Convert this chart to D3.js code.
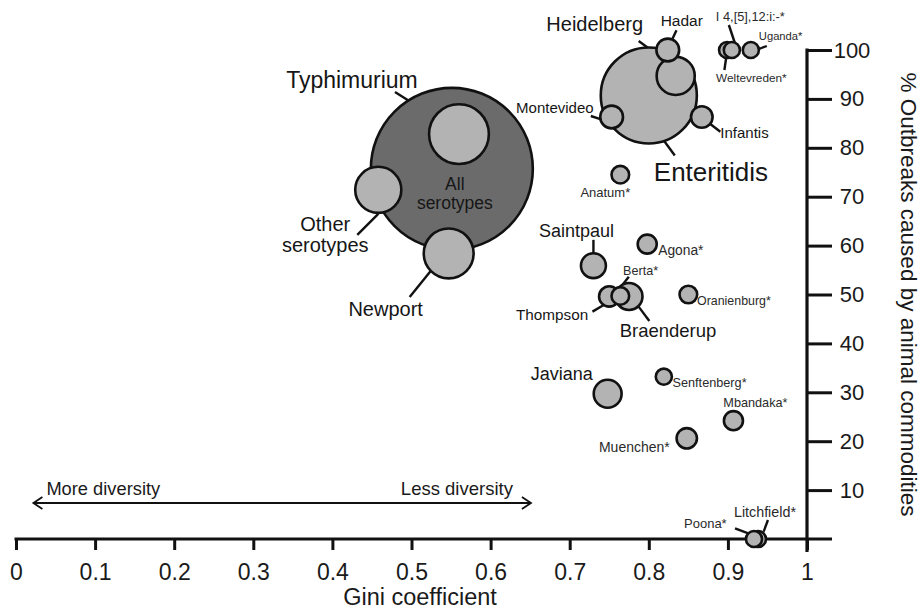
<!DOCTYPE html>
<html>
<head>
<meta charset="utf-8">
<script src="https://cdn.jsdelivr.net/npm/d3@7"></script>
<style>
  body { margin: 0; background: #fff; }
  text { font-family: Arial, "Liberation Sans", sans-serif; }
</style>
</head>
<body>
<div id="chart"></div>
<script>
const width = 920;
const height = 612;

// values
const serotypes = ["All serotypes", "Enteritidis", "Typhimurium", "Newport", "Other serotypes",
    "Heidelberg", "Javiana", "Braenderup", "Saintpaul", "Hadar", "Montevideo", "Infantis",
    "Thompson", "Muenchen*", "Agona*", "Mbandaka*", "Anatum*", "Oranienburg*", "Berta*",
    "Senftenberg*", "Uganda*", "Weltevreden*", "I 4,[5],12:i:-*", "Litchfield*", "Poona*"];
const gini = [0.551, 0.800, 0.560, 0.547, 0.458,
    0.834, 0.748, 0.775, 0.730, 0.824, 0.753, 0.867,
    0.750, 0.848, 0.798, 0.907, 0.764, 0.850, 0.764,
    0.819, 0.929, 0.899, 0.905, 0.938, 0.933];
const pctAnimal = [75.7, 90.7, 82.8, 58.4, 71.4,
    94.7, 29.7, 49.6, 55.9, 100, 86.3, 86.3,
    49.6, 20.6, 60.3, 24.2, 74.5, 50.0, 49.7,
    33.2, 100, 100, 100, 0, 0];
const outbreaks = [506, 178, 69, 48, 41,
    28, 15, 14, 12, 10, 10, 9,
    8, 8, 7, 7, 6, 6, 6,
    5, 5, 5, 5, 5, 5];

const xTicks = [0, 0.1, 0.2, 0.3, 0.4, 0.5, 0.6, 0.7, 0.8, 0.9, 1];
const xTickLabels = ["0", "0.1", "0.2", "0.3", "0.4", "0.5", "0.6", "0.7", "0.8", "0.9", "1"];
const yTicks = [10, 20, 30, 40, 50, 60, 70, 80, 90, 100];

// label placement relative to each bubble (pixels)
const labelLayout = {
    "All serotypes":   { dx: 3, dy: [21, 40], lines: ["All", "serotypes"], anchor: "middle", size: 17.5 },
    "Enteritidis":     { dx: 5, dy: [86], anchor: "start", size: 26, leader: [15, 45, 26, 60] },
    "Typhimurium":     { dx: -107, dy: [-46], anchor: "middle", size: 23, leader: [-64, -42, -26, -18] },
    "Newport":         { dx: -63, dy: [62.5], anchor: "middle", size: 20, leader: [-39, 43.5, -18, 17.5] },
    "Other serotypes": { dx: -53, dy: [41.5, 62.5], lines: ["Other", "serotypes"], anchor: "middle", size: 20, leader: [-21, 45, 0, 24] },
    "Heidelberg":      { dx: -81, dy: [-45], anchor: "middle", size: 20, leader: [-37, -35, -18, -21] },
    "Javiana":         { dx: -46, dy: [-13.5], anchor: "middle", size: 18 },
    "Braenderup":      { dx: 39, dy: [41], anchor: "middle", size: 18.5, leader: [9.6, 10.2, 20.3, 24.5] },
    "Saintpaul":       { dx: -17, dy: [-28.5], anchor: "middle", size: 18, leader: [0, -25.8, 0, -12.5] },
    "Hadar":           { dx: 14, dy: [-24.5], anchor: "middle", size: 15.5, leader: [8.7, -19.8, 4.7, -11.2] },
    "Montevideo":      { dx: -18, dy: [-4], anchor: "end", size: 15, leader: [-20.8, -1, -10.5, 2.3] },
    "Infantis":        { dx: 18.5, dy: [21], anchor: "start", size: 15, leader: [8.5, 7, 18.5, 14.7] },
    "Thompson":        { dx: -21, dy: [23.5], anchor: "end", size: 15.3, leader: [-16.8, 15.2, -5.5, 8.5] },
    "Muenchen*":       { dx: -17, dy: [13.7], anchor: "end", size: 14 },
    "Agona*":          { dx: 11, dy: [11], anchor: "start", size: 13.8 },
    "Mbandaka*":       { dx: 22, dy: [-14], anchor: "middle", size: 12.7 },
    "Anatum*":         { dx: -15, dy: [22.2], anchor: "middle", size: 13 },
    "Oranienburg*":    { dx: 8.7, dy: [10.5], anchor: "start", size: 12.4 },
    "Berta*":          { dx: 20.3, dy: [-21], anchor: "middle", size: 12.6, leader: [8.5, -19.3, -0.5, -7.7] },
    "Senftenberg*":    { dx: 8.7, dy: [10.2], anchor: "start", size: 12.7 },
    "Uganda*":         { dx: 8, dy: [-10], anchor: "start", size: 11.2, leader: [8, -1, 16, -4] },
    "Weltevreden*":    { dx: 24.3, dy: [32], anchor: "middle", size: 11.8, leader: [-1, 8, -2.7, 20] },
    "I 4,[5],12:i:-*": { dx: 18.5, dy: [-29.3], anchor: "middle", size: 12.8, leader: [-3, -25, 3, -7] },
    "Litchfield*":     { dx: 7, dy: [-22.3], anchor: "middle", size: 14.3, leader: [10, -19, 5.7, -7.3] },
    "Poona*":          { dx: -27.3, dy: [-10.7], anchor: "end", size: 13, leader: [-19, -10.7, -5.7, -5.7] }
};

const data = serotypes.map((name, i) => ({
    name,
    gini: gini[i],
    pct: pctAnimal[i],
    n: outbreaks[i]
}));

const svg = d3.select("#chart").append("svg")
    .attr("width", width)
    .attr("height", height);

const xScale = d3.scaleLinear().domain([0, 1]).range([16, 807]);
const yScale = d3.scaleLinear().domain([0, 100]).range([539, 50]);
const rScale = d3.scaleSqrt().domain([0, 500]).range([0, 80.5]);

const ink = "#111";

// x axis
const xAxis = d3.axisBottom(xScale)
    .tickValues(xTicks)
    .tickFormat((d, i) => xTickLabels[i])
    .tickSize(11)
    .tickSizeOuter(0);

const gx = svg.append("g")
    .attr("transform", `translate(0,${yScale(0)})`)
    .call(xAxis);
gx.select(".domain").remove();
gx.selectAll(".tick line").attr("stroke", ink).attr("stroke-width", 3);
gx.selectAll(".tick text")
    .attr("y", 41)
    .attr("dy", 0)
    .attr("fill", "#1a1a1a")
    .style("font-size", "23px");

svg.append("line")
    .attr("x1", xScale(0) - 1.5)
    .attr("x2", xScale(1) + 25)
    .attr("y1", yScale(0))
    .attr("y2", yScale(0))
    .attr("stroke", ink)
    .attr("stroke-width", 3.2);

// y axis on the right
const yAxis = d3.axisRight(yScale)
    .tickValues(yTicks)
    .tickSize(25)
    .tickSizeOuter(0);

const gy = svg.append("g")
    .attr("transform", `translate(${xScale(1)},0)`)
    .call(yAxis);
gy.select(".domain").remove();
gy.selectAll(".tick line").attr("stroke", ink).attr("stroke-width", 3);
gy.selectAll(".tick text")
    .attr("x", 45)
    .attr("text-anchor", "middle")
    .attr("fill", "#1a1a1a")
    .style("font-size", "22px");

svg.append("line")
    .attr("x1", xScale(1))
    .attr("x2", xScale(1))
    .attr("y1", yScale(100) - 1.5)
    .attr("y2", yScale(0) + 13)
    .attr("stroke", ink)
    .attr("stroke-width", 3.2);

svg.append("text")
    .attr("x", 420)
    .attr("y", 605)
    .attr("text-anchor", "middle")
    .attr("fill", "#1a1a1a")
    .style("font-size", "23.5px")
    .text("Gini coefficient");

svg.append("text")
    .attr("transform", `translate(901,${(yScale(100) + yScale(0)) / 2}) rotate(90)`)
    .attr("text-anchor", "middle")
    .attr("fill", "#1a1a1a")
    .style("font-size", "22.5px")
    .text("% Outbreaks caused by animal commodities");

// diversity arrow
const arrowY = 503;
const arrowL = xScale(0.022);
const arrowR = xScale(0.651);
svg.append("line")
    .attr("x1", arrowL).attr("x2", arrowR)
    .attr("y1", arrowY).attr("y2", arrowY)
    .attr("stroke", ink)
    .attr("stroke-width", 1.8);
svg.append("path")
    .attr("d", `M${arrowL + 9},${arrowY - 6}L${arrowL},${arrowY}L${arrowL + 9},${arrowY + 6}`)
    .attr("fill", "none").attr("stroke", ink).attr("stroke-width", 1.8);
svg.append("path")
    .attr("d", `M${arrowR - 9},${arrowY - 6}L${arrowR},${arrowY}L${arrowR - 9},${arrowY + 6}`)
    .attr("fill", "none").attr("stroke", ink).attr("stroke-width", 1.8);

svg.append("text")
    .attr("x", arrowL + 13)
    .attr("y", 495)
    .attr("fill", "#1a1a1a")
    .style("font-size", "18.3px")
    .text("More diversity");
svg.append("text")
    .attr("x", arrowR - 18)
    .attr("y", 495)
    .attr("text-anchor", "end")
    .attr("fill", "#1a1a1a")
    .style("font-size", "18.5px")
    .text("Less diversity");

// leader lines
const leaders = data.filter(d => labelLayout[d.name] && labelLayout[d.name].leader);
svg.selectAll(".leader")
    .data(leaders)
    .enter().append("line")
    .attr("class", "leader")
    .attr("x1", d => xScale(d.gini) + labelLayout[d.name].leader[0])
    .attr("y1", d => yScale(d.pct) + labelLayout[d.name].leader[1])
    .attr("x2", d => xScale(d.gini) + labelLayout[d.name].leader[2])
    .attr("y2", d => yScale(d.pct) + labelLayout[d.name].leader[3])
    .attr("stroke", ink)
    .attr("stroke-width", 2.4);

// bubbles, biggest first so the small ones sit on top
const sorted = data.slice().sort((a, b) => b.n - a.n);
svg.selectAll(".bubble")
    .data(sorted)
    .enter().append("circle")
    .attr("class", "bubble")
    .attr("cx", d => xScale(d.gini))
    .attr("cy", d => yScale(d.pct))
    .attr("r", d => rScale(d.n))
    .attr("fill", d => d.name === "All serotypes" ? "#6b6b6b" : "#b3b3b3")
    .attr("stroke", ink)
    .attr("stroke-width", 2.6);

// labels
data.forEach(d => {
    const lay = labelLayout[d.name];
    if (!lay) return;
    const lines = lay.lines || [d.name];
    const small = d.name.endsWith("*");
    lines.forEach((line, i) => {
        svg.append("text")
            .attr("x", xScale(d.gini) + lay.dx)
            .attr("y", yScale(d.pct) + lay.dy[i])
            .attr("text-anchor", lay.anchor)
            .attr("fill", small ? "#2a2a2a" : "#161616")
            .style("font-size", lay.size + "px")
            .text(line);
    });
});
</script>
</body>
</html>
